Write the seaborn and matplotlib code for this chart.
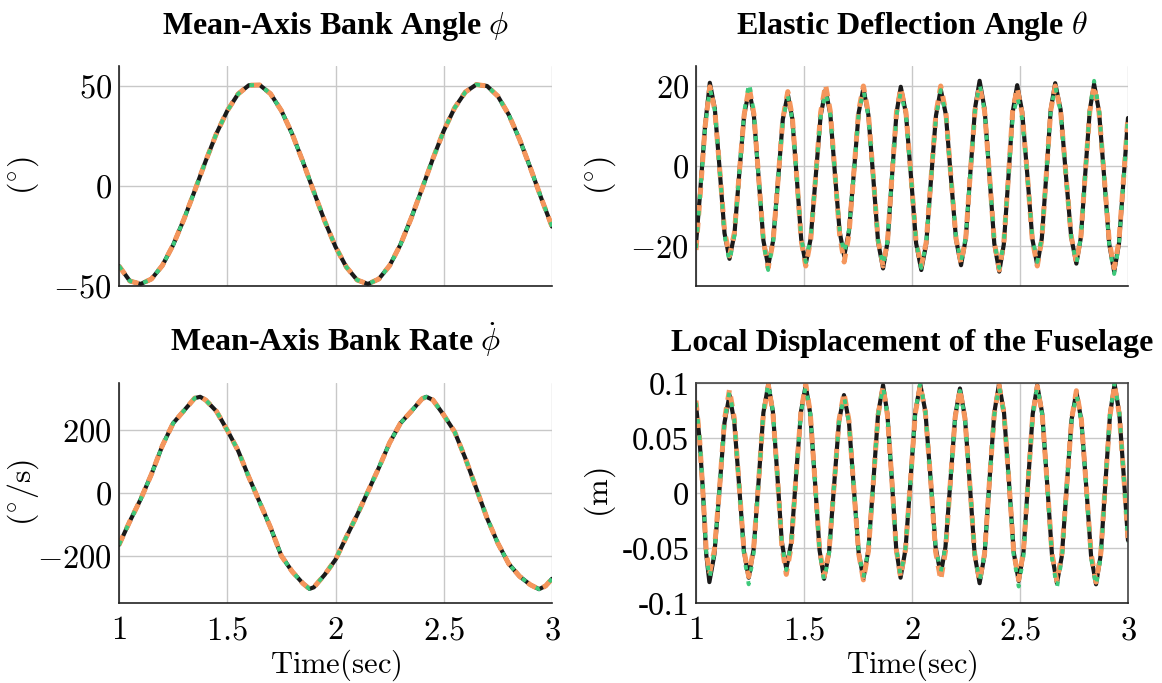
import matplotlib
matplotlib.use("Agg")
import matplotlib.pyplot as plt
import seaborn as sns

# ---- data (time in sec) ----
t_slow = [1.00, 1.05, 1.10, 1.15, 1.20, 1.25, 1.30, 1.35, 1.40, 1.45, 1.50,
          1.55, 1.60, 1.65, 1.70, 1.75, 1.80, 1.85, 1.90, 1.95, 2.00, 2.05,
          2.10, 2.15, 2.20, 2.25, 2.30, 2.35, 2.40, 2.45, 2.50, 2.55, 2.60,
          2.65, 2.70, 2.75, 2.80, 2.85, 2.90, 2.95, 3.00]
phi = [-40.0, -47.5, -49.0, -46.5, -39.8, -29.5, -16.6, -2.3, 12.4, 26.2, 37.6,
       46.0, 50.4, 50.5, 46.1, 37.7, 26.0, 12.0, -2.9, -17.5, -30.4, -40.5,
       -47.0, -49.0, -46.5, -39.8, -29.3, -16.0, -1.3, 13.7, 27.6, 39.0, 47.0,
       50.7, 50.0, 44.9, 35.7, 23.4, 9.1, -6.0, -20.3]

t_rate = [1.00, 1.05, 1.10, 1.15, 1.20, 1.25, 1.30, 1.35, 1.375, 1.40, 1.45,
          1.50, 1.55, 1.60, 1.65, 1.70, 1.75, 1.80, 1.85, 1.88, 1.90, 1.95,
          2.00, 2.05, 2.10, 2.15, 2.20, 2.25, 2.30, 2.35, 2.40, 2.42, 2.45,
          2.50, 2.55, 2.60, 2.65, 2.70, 2.75, 2.80, 2.85, 2.90, 2.94, 2.97, 3.00]
phi_dot = [-165, -90, -20, 60, 150, 222, 262, 302, 306, 296, 260,
           200, 135, 50, -30, -110, -200, -250, -288, -305, -300, -260,
           -212, -140, -70, 5, 80, 160, 222, 260, 300, 306, 296,
           248, 195, 110, 15, -80, -160, -225, -265, -292, -306, -296, -273]

t_theta = [1.000, 1.020, 1.042, 1.064,
           1.087, 1.110, 1.132, 1.155, 1.178, 1.200, 1.223, 1.246,
           1.268, 1.290, 1.312, 1.334, 1.357, 1.380, 1.402, 1.425,
           1.446, 1.467, 1.487, 1.508, 1.531, 1.554, 1.577, 1.600,
           1.622, 1.643, 1.665, 1.686, 1.708, 1.731, 1.753, 1.775,
           1.798, 1.821, 1.843, 1.866, 1.887, 1.907, 1.928, 1.948,
           1.972, 1.996, 2.019, 2.043, 2.066, 2.088, 2.111, 2.133,
           2.157, 2.180, 2.204, 2.227, 2.249, 2.270, 2.292, 2.313,
           2.336, 2.359, 2.381, 2.404, 2.425, 2.446, 2.466, 2.487,
           2.510, 2.534, 2.557, 2.580, 2.601, 2.622, 2.642, 2.663,
           2.688, 2.712, 2.737, 2.761, 2.782, 2.802, 2.823, 2.843,
           2.866, 2.890, 2.913, 2.936, 2.958, 2.980, 3.000]
theta_ref = [-19.5, -6.0, 10.0, 20.8,
             14.4, -1.2, -16.8, -23.2, -17.0, -2.1, 12.8, 19.0,
             12.6, -3.0, -18.6, -25.0, -18.7, -3.5, 11.7, 18.0,
             11.8, -3.3, -18.3, -24.5, -18.1, -2.8, 12.6, 19.0,
             12.9, -1.8, -16.4, -22.5, -16.4, -1.6, 13.3, 19.4,
             12.8, -3.1, -19.0, -25.6, -18.9, -2.9, 13.1, 19.8,
             13.1, -3.1, -19.3, -26.0, -19.4, -3.4, 12.6, 19.2,
             12.8, -2.8, -18.4, -24.8, -18.1, -1.8, 14.5, 21.3,
             14.3, -2.6, -19.4, -26.4, -19.6, -3.1, 13.4, 20.2,
             13.6, -2.3, -18.2, -24.8, -18.1, -2.1, 14.0, 20.7,
             14.1, -1.9, -17.8, -24.4, -17.8, -2.0, 13.9, 20.5,
             13.6, -3.0, -19.5, -26.4, -19.5, -3.0, 12.0]
theta_a = [-20.5, -6.5, 9.5, 19.5,
           14.0, -1.2, -17.2, -24.0, -17.4, -2.1, 13.5, 21.0,
           13.2, -3.0, -19.0, -26.0, -19.0, -3.5, 11.4, 17.5,
           11.5, -3.3, -18.0, -24.0, -17.8, -2.8, 12.3, 18.5,
           12.6, -1.8, -16.0, -22.0, -16.0, -1.6, 13.0, 19.0,
           12.5, -3.1, -18.6, -25.0, -18.5, -2.9, 12.5, 18.5,
           12.5, -3.1, -19.0, -25.5, -19.0, -3.4, 12.3, 19.0,
           12.6, -2.8, -18.0, -24.0, -17.6, -1.8, 14.0, 20.5,
           13.8, -2.6, -19.0, -25.5, -19.0, -3.1, 11.8, 17.5,
           11.8, -2.3, -17.8, -24.0, -17.8, -2.1, 13.6, 20.0,
           13.6, -1.9, -17.8, -24.5, -17.8, -2.0, 14.4, 21.3,
           14.2, -3.0, -19.8, -27.0, -19.8, -3.0, 12.0]
theta_b = [-21.0, -6.8, 9.8, 19.8,
           14.0, -1.0, -16.2, -22.5, -16.6, -2.0, 12.8, 19.8,
           13.0, -2.8, -18.6, -25.5, -18.8, -3.4, 11.8, 18.6,
           12.2, -3.2, -18.6, -25.0, -18.6, -2.6, 13.4, 20.3,
           13.6, -1.6, -17.2, -24.0, -17.2, -1.4, 13.8, 20.0,
           13.2, -2.9, -18.6, -25.0, -18.6, -2.7, 13.4, 19.5,
           13.4, -3.0, -19.0, -25.0, -19.0, -3.2, 13.2, 20.0,
           13.3, -2.6, -18.2, -24.3, -18.0, -1.7, 14.0, 20.0,
           13.8, -2.5, -19.0, -26.0, -19.2, -3.0, 13.8, 19.5,
           13.2, -2.2, -18.4, -25.0, -18.3, -2.0, 13.8, 20.0,
           13.8, -1.8, -17.6, -24.0, -17.6, -1.9, 13.6, 20.0,
           13.4, -2.8, -18.8, -25.5, -18.8, -2.8, 12.5]

t_disp = [1.000, 1.016, 1.031, 1.047, 1.062,
          1.085, 1.109, 1.132, 1.155, 1.177, 1.200, 1.222, 1.244,
          1.267, 1.290, 1.312, 1.335, 1.356, 1.377, 1.397, 1.418,
          1.441, 1.463, 1.486, 1.508, 1.529, 1.551, 1.572, 1.593,
          1.616, 1.639, 1.662, 1.685, 1.708, 1.730, 1.753, 1.775,
          1.798, 1.821, 1.843, 1.866, 1.886, 1.907, 1.927, 1.947,
          1.970, 1.993, 2.015, 2.038, 2.062, 2.086, 2.109, 2.133,
          2.155, 2.178, 2.200, 2.222, 2.245, 2.268, 2.290, 2.313,
          2.336, 2.358, 2.381, 2.403, 2.426, 2.449, 2.471, 2.494,
          2.516, 2.537, 2.559, 2.580, 2.603, 2.626, 2.648, 2.671,
          2.694, 2.716, 2.739, 2.761, 2.784, 2.807, 2.829, 2.852,
          2.874, 2.895, 2.917, 2.938, 2.960, 2.983, 3.000]
disp_ref = [0.080, 0.050, 0.005, -0.055, -0.081,
            -0.056, 0.004, 0.064, 0.089, 0.065, 0.006, -0.053, -0.077,
            -0.051, 0.011, 0.073, 0.099, 0.074, 0.015, -0.044, -0.069,
            -0.045, 0.015, 0.074, 0.098, 0.072, 0.010, -0.052, -0.078,
            -0.054, 0.006, 0.065, 0.089, 0.065, 0.006, -0.054, -0.078,
            -0.052, 0.010, 0.072, 0.098, 0.072, 0.011, -0.051, -0.077,
            -0.051, 0.011, 0.073, 0.099, 0.074, 0.013, -0.049, -0.074,
            -0.049, 0.011, 0.070, 0.095, 0.069, 0.007, -0.056, -0.082,
            -0.056, 0.009, 0.073, 0.099, 0.073, 0.010, -0.054, -0.080,
            -0.054, 0.009, 0.072, 0.098, 0.072, 0.008, -0.056, -0.082,
            -0.057, 0.005, 0.067, 0.092, 0.066, 0.005, -0.057, -0.083,
            -0.056, 0.008, 0.072, 0.099, 0.072, 0.008, -0.043]
disp_a = [0.082, 0.052, 0.006, -0.053, -0.078,
          -0.054, 0.004, 0.066, 0.092, 0.067, 0.006, -0.057, -0.083,
          -0.055, 0.011, 0.074, 0.100, 0.074, 0.015, -0.045, -0.070,
          -0.045, 0.015, 0.073, 0.097, 0.072, 0.010, -0.053, -0.080,
          -0.055, 0.006, 0.064, 0.088, 0.064, 0.006, -0.053, -0.077,
          -0.051, 0.010, 0.071, 0.097, 0.071, 0.011, -0.050, -0.075,
          -0.050, 0.011, 0.074, 0.100, 0.074, 0.013, -0.048, -0.072,
          -0.048, 0.011, 0.069, 0.093, 0.068, 0.007, -0.055, -0.080,
          -0.055, 0.009, 0.071, 0.097, 0.071, 0.010, -0.058, -0.085,
          -0.058, 0.009, 0.071, 0.097, 0.071, 0.008, -0.059, -0.086,
          -0.060, 0.005, 0.066, 0.090, 0.065, 0.005, -0.059, -0.085,
          -0.058, 0.008, 0.073, 0.100, 0.073, 0.008, -0.045]
disp_b = [0.084, 0.051, 0.004, -0.051, -0.074,
          -0.052, 0.004, 0.067, 0.094, 0.068, 0.006, -0.052, -0.076,
          -0.050, 0.011, 0.072, 0.098, 0.073, 0.015, -0.047, -0.074,
          -0.048, 0.015, 0.074, 0.099, 0.073, 0.010, -0.051, -0.076,
          -0.053, 0.006, 0.066, 0.091, 0.066, 0.006, -0.055, -0.079,
          -0.053, 0.010, 0.071, 0.097, 0.071, 0.011, -0.051, -0.076,
          -0.051, 0.011, 0.072, 0.098, 0.073, 0.013, -0.053, -0.079,
          -0.053, 0.011, 0.069, 0.094, 0.068, 0.007, -0.055, -0.080,
          -0.055, 0.009, 0.072, 0.098, 0.072, 0.010, -0.054, -0.079,
          -0.053, 0.009, 0.071, 0.097, 0.071, 0.008, -0.055, -0.080,
          -0.055, 0.005, 0.067, 0.093, 0.067, 0.005, -0.055, -0.081,
          -0.055, 0.008, 0.071, 0.098, 0.071, 0.008, -0.042]

x_ticks = [1, 1.5, 2, 2.5, 3]
x_tick_labels = ["$1$", "$1.5$", "$2$", "$2.5$", "$3$"]

C_REF = "#1a1a1a"
C_A = "#3ec97a"
C_B = "#f5965c"

sns.set_theme(style="white")
plt.rcParams["font.family"] = ["Liberation Serif", "DejaVu Serif"]
plt.rcParams["mathtext.fontset"] = "cm"
for key in ["text.color", "axes.labelcolor", "xtick.color", "ytick.color"]:
    plt.rcParams[key] = "black"

fig = plt.figure(figsize=(11.62, 6.83), dpi=100)

W, H = 1162, 683
def box(l, r, top, bot):
    return [l / W, 1 - bot / H, (r - l) / W, (bot - top) / H]

ax_phi = fig.add_axes(box(119, 552, 66, 286))
ax_theta = fig.add_axes(box(696, 1128, 66, 286))
ax_rate = fig.add_axes(box(119, 552, 383, 603))
ax_disp = fig.add_axes(box(696, 1128, 383, 603))


def draw(ax, t, ref, a, b):
    sns.lineplot(x=t, y=ref, ax=ax, color=C_REF, linewidth=3.0, sort=False)
    sns.lineplot(x=t, y=b, ax=ax, color=C_B, linewidth=3.6, sort=False)
    ax.lines[-1].set_dashes([2.0, 1.5])
    sns.lineplot(x=t, y=a, ax=ax, color=C_A, linewidth=2.8, sort=False)
    ax.lines[-1].set_dashes([1.2, 3.0])
    ax.lines[-1].set_dash_capstyle("butt")


draw(ax_phi, t_slow, phi, phi, phi)
draw(ax_rate, t_rate, phi_dot, phi_dot, phi_dot)
draw(ax_theta, t_theta, theta_ref, theta_a, theta_b)
draw(ax_disp, t_disp, disp_ref, disp_a, disp_b)

settings = [
    (ax_phi, (-50, 60), [-50, 0, 50], ["$-50$", "$0$", "$50$"],
     "Mean-Axis Bank Angle $\\phi$", "$(^{\\circ})$"),
    (ax_theta, (-30, 25), [-20, 0, 20], ["$-20$", "$0$", "$20$"],
     "Elastic Deflection Angle $\\theta$", "$(^{\\circ})$"),
    (ax_rate, (-350, 350), [-200, 0, 200], ["$-200$", "$0$", "$200$"],
     "Mean-Axis Bank Rate $\\dot{\\phi}$", "$(^{\\circ}/\\mathrm{s})$"),
    (ax_disp, (-0.1, 0.1), [-0.1, -0.05, 0, 0.05, 0.1],
     ["-0.1", "-0.05", "0", "0.05", "0.1"],
     "Local Displacement of the Fuselage", "$(\\mathrm{m})$"),
]

for ax, ylim, yt, ytl, title, ylab in settings:
    ax.set_xlim(1, 3)
    ax.set_ylim(*ylim)
    ax.set_xticks(x_ticks)
    ax.set_yticks(yt)
    ax.set_yticklabels(ytl, fontsize=23.5)
    ax.grid(True, color="#c8c8c8", linewidth=1.0)
    ax.set_axisbelow(True)
    ax.tick_params(axis="y", length=0, pad=5)
    ax.tick_params(axis="x", length=0, pad=9)
    ax.set_title(title, fontsize=23, fontweight="bold", pad=23)
    ax.set_ylabel(ylab, fontsize=23)
    ax.yaxis.set_label_coords(-0.18, 0.5)
    for side in ["left", "bottom"]:
        ax.spines[side].set_color("#222222")
        ax.spines[side].set_linewidth(1.2)
    if ax is ax_disp:
        for side in ["top", "right"]:
            ax.spines[side].set_color("#444444")
            ax.spines[side].set_linewidth(1.2)
    else:
        ax.spines["top"].set_visible(False)
        ax.spines["right"].set_visible(False)

for ax in (ax_phi, ax_theta):
    ax.set_xticklabels([])
for ax in (ax_rate, ax_disp):
    ax.set_xticklabels(x_tick_labels, fontsize=23.5)
    ax.set_xlabel("$\\mathrm{Time(sec)}$", fontsize=22, labelpad=1)

fig.savefig("out.png", dpi=100)
